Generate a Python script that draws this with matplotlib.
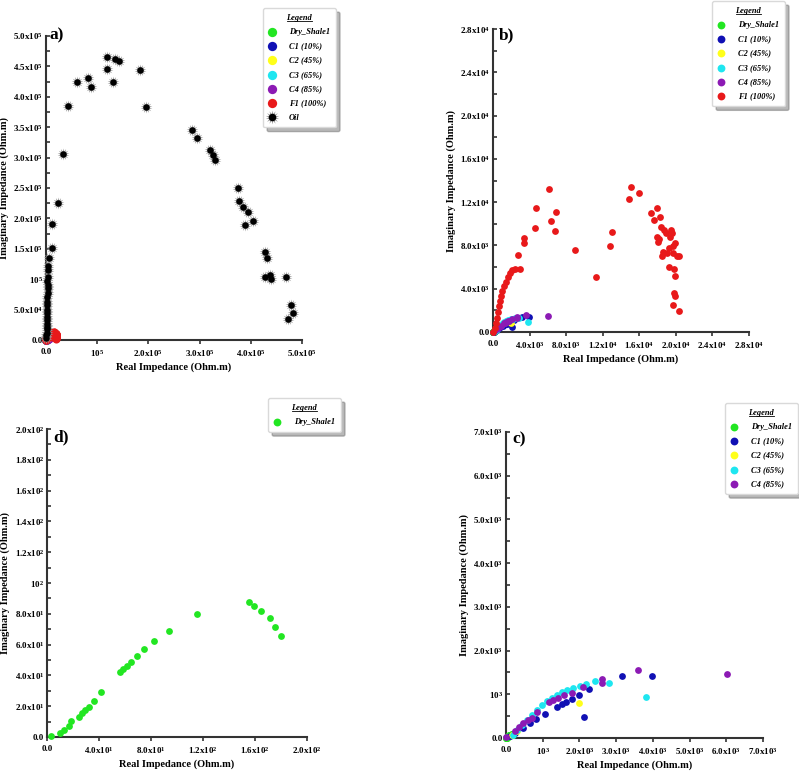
import numpy as np
import matplotlib
matplotlib.use('Agg')
import matplotlib.pyplot as plt
from matplotlib.lines import Line2D

plt.rcParams['font.family'] = 'Liberation Serif'
plt.rcParams['font.weight'] = 'bold'
plt.rcParams['mathtext.fontset'] = 'custom'
plt.rcParams['mathtext.rm'] = 'Liberation Serif:bold'
plt.rcParams['mathtext.it'] = 'Liberation Serif:italic:bold'
plt.rcParams['mathtext.bf'] = 'Liberation Serif:bold'

# --- data (Ohm.m) ---
oil_re = [120000, 134000, 142000, 119000, 184000, 81500, 60600, 130000, 88700,
          43000, 195000, 33000, 285500, 294000, 320000, 326000, 330000,
          375500, 376000, 385000, 394000, 405000, 389000, 428000, 431000,
          428000, 438000, 440000, 469000, 478000, 482000, 473000,
          23000, 12000, 11000, 6500, 4600, 4600, 3000, 3000, 2600, 2000, 1000, 500,
          3500, 2500, 3000, 2000, 2500, 1500, 2000, 1500, 1000, 2000, 1000, 500]
oil_im = [466000, 462000, 459000, 445000, 444000, 431000, 424000, 425000, 416000,
          385000, 384000, 306000, 346000, 333000, 312500, 304000, 295500,
          250000, 228600, 219000, 210000, 196000, 189000, 145000, 135000,
          104000, 107000, 99800, 104000, 57600, 43900, 34000,
          225000, 191000, 152000, 135000, 122000, 104000, 90000, 77000, 63000, 44000, 27000, 8000,
          115000, 97000, 85000, 70000, 57000, 50000, 38000, 33000, 22000, 18000, 12000, 4000]

f1_re = [0, 182, 291, 400, 509, 618, 727, 873, 1018, 1200, 1382, 1600, 1818, 2109,
         2364, 2909, 2691, 3345, 3382, 4618, 4691, 6073, 6364, 6800, 6873, 8945,
         11273, 12800, 13055, 14836, 15055, 15927, 17273, 17600, 17964, 18255,
         18327, 17927, 18182, 18036, 18436, 18545, 18691, 18873, 19418, 19527,
         19273, 19709, 19927, 20145, 19709, 19273, 19782, 19891, 19782, 19891,
         19636, 20291, 20364, 18982, 19345]
f1_im = [0, 370, 832, 1294, 1818, 2372, 2834, 3296, 3758, 4221, 4621, 5052, 5453, 5699,
         5822, 5822, 7086, 8225, 8688, 9612, 11460, 13216, 10228, 9365, 11121, 7609,
         5114, 7917, 9273, 12261, 13401, 12847, 11000, 10382, 11460, 10659,
         9673, 8780, 8595, 8287, 6993, 7394, 9458, 9150, 9458, 9150,
         7763, 7917, 8225, 6993, 7301, 6007, 5822, 5145, 3604, 3296,
         2526, 1972, 6993, 7301, 8780]

c1_re = [3173, 3980, 2267, 1985, 1804, 1623, 1514, 1378, 1052, 816, 2131, 653, 471, 245, 109]
c1_im = [1423, 1408, 1119, 982, 890, 830, 784, 708, 548, 434, 479, 342, 228, 114, 38]

c2_re = [1985, 290, 150]
c2_im = [799, 152, 60]

c3_re = [3808, 2792, 2421, 2176, 2013, 1831, 1650, 1514, 1378, 1242, 1106, 970,
         834, 698, 562, 426, 290, 181]
c3_im = [936, 1256, 1294, 1240, 1195, 1142, 1104, 1043, 989, 913, 837, 761,
         647, 533, 419, 304, 190, 76]

c4_re = [6020, 3608, 2602, 2602, 2103, 1786, 1587, 1423, 1287, 1170, 834, 698,
         589, 471, 354, 245, 0]
c4_im = [1461, 1560, 1347, 1256, 1157, 1027, 974, 913, 875, 830, 586, 457,
         403, 342, 251, 167, 23]

dry_re = [3.1, 9.7, 12.8, 16.6, 18.7, 24.3, 26.9, 29.4, 32.0, 35.8, 41.7, 56.5,
          58.8, 61.4, 64.7, 69.3, 74.7, 82.6, 94.1, 115.1, 155.0, 159.6, 164.7,
          171.4, 175.4, 180.3]
dry_im = [0.4, 2.6, 4.8, 6.9, 10.2, 13.0, 15.6, 17.3, 19.2, 23.1, 28.9, 42.1,
          44.1, 46.2, 49.0, 52.7, 57.0, 62.4, 69.1, 79.9, 87.7, 84.9, 81.6,
          77.5, 71.3, 65.7]

series = {
    'Dry_Shale1': (dry_re, dry_im, '#22e622'),
    'C1 (10%)': (c1_re, c1_im, '#1010b4'),
    'C2 (45%)': (c2_re, c2_im, '#ffff1a'),
    'C3 (65%)': (c3_re, c3_im, '#1ee6f0'),
    'C4 (85%)': (c4_re, c4_im, '#8c1ab4'),
    'F1 (100%)': (f1_re, f1_im, '#e8191a'),
}

W, H = 799, 776
fig = plt.figure(figsize=(W / 100, H / 100), dpi=100)


def px_axes(x0, y0, x1, y1):
    # axes from pixel corners (origin, top-right) of the data area
    return fig.add_axes([x0 / W, 1 - y0 / H, (x1 - x0) / W, (y0 - y1) / H])


def sci(v):
    if v == 0:
        return '0.0'
    e = int(np.floor(np.log10(v) + 1e-9))
    m = v / 10 ** e
    if abs(m - 1) < 1e-9:
        return '10$^{%d}$' % e
    return '%.1fx10$^{%d}$' % (m, e)


def setup(ax, xmax, xstep, ymax, ystep):
    ax.set_xlim(0, xmax)
    ax.set_ylim(0, ymax)
    for s in ['top', 'right']:
        ax.spines[s].set_visible(False)
    for s in ['left', 'bottom']:
        ax.spines[s].set_linewidth(1.5)
        ax.spines[s].set_color('#333333')
    xt = np.arange(0, xmax + xstep / 2, xstep)
    yt = np.arange(0, ymax + ystep / 2, ystep)
    ax.set_xticks(xt, [sci(v) for v in xt], fontsize=6.5, fontweight='bold')
    ax.set_yticks(yt, [sci(v) for v in yt], fontsize=6.5, fontweight='bold')
    ax.set_yticks(yt[:-1] + ystep / 2, minor=True)
    ax.tick_params(axis='y', which='both', direction='in', length=3, width=1.2,
                   pad=2, color='#333333')
    ax.tick_params(axis='x', direction='out', length=3, width=1.2, pad=3, color='#333333')
    ax.set_xlabel('Real Impedance (Ohm.m)', fontsize=7.5, fontweight='bold', labelpad=2)
    ax.set_ylabel('Imaginary Impedance (Ohm.m)', fontsize=7.5, fontweight='bold', labelpad=3)


def dots(ax, names, s=20):
    hs = []
    for n in names:
        re, im, col = series[n]
        h = ax.scatter(re, im, s=s, c=col, linewidths=0, zorder=4, clip_on=False)
        hs.append(h)
    return hs


legends = []


def add_legend(ax, handles, labels, x, y):
    leg = ax.legend(handles, labels, loc='upper left',
                    bbox_to_anchor=(x / W, 1 - y / H), bbox_transform=fig.transFigure,
                    title='Legend', prop={'style': 'italic', 'weight': 'bold', 'size': 6},
                    title_fontproperties={'style': 'italic', 'weight': 'bold', 'size': 6},
                    frameon=True, fancybox=True, framealpha=1, edgecolor='0.85',
                    shadow={'ox': 3, 'oy': -3, 'color': '0.45'},
                    borderpad=0.7, labelspacing=0.75, handletextpad=1.6,
                    handlelength=0.8, borderaxespad=0, markerscale=1.15)
    leg.set_zorder(10)
    legends.append(leg)


# a) everything, oil dominates
ax_a = px_axes(46, 340, 302, 36)
setup(ax_a, 5e5, 1e5, 5e5, 5e4)
names_all = list(series.keys())
hs_a = dots(ax_a, names_all, s=34)
halo = ax_a.scatter(oil_re, oil_im, s=75, marker=(14, 1, 0), c='0.6', linewidths=0,
                    zorder=5, clip_on=False)
core = ax_a.scatter(oil_re, oil_im, s=22, c='k', linewidths=0, zorder=6, clip_on=False)
add_legend(ax_a, hs_a + [(halo, core)], names_all + ['Oil'], 263, 8)
fig.text(50 / W, 1 - 35 / H, 'a)', fontsize=12.5, fontweight='bold', va='center')

# b) samples with water
ax_b = px_axes(493, 332, 749, 29)
setup(ax_b, 2.8e4, 4e3, 2.8e4, 4e3)
hs_b = dots(ax_b, names_all, s=24)
add_legend(ax_b, hs_b, names_all, 712, 1)
fig.text(499 / W, 1 - 35 / H, 'b)', fontsize=12.5, fontweight='bold', va='center')

# d) dry shale only
ax_d = px_axes(47, 737, 307, 429)
setup(ax_d, 200, 40, 200, 20)
hs_d = dots(ax_d, ['Dry_Shale1'], s=24)
add_legend(ax_d, hs_d, ['Dry_Shale1'], 268, 398)
fig.text(53 / W, 1 - 437 / H, 'd)', fontsize=12.5, fontweight='bold', va='center')

# c) partially saturated
ax_c = px_axes(506, 738, 763, 432)
setup(ax_c, 7e3, 1e3, 7e3, 1e3)
names_c = names_all[:5]
hs_c = dots(ax_c, names_c, s=24)
add_legend(ax_c, hs_c, names_c, 725, 403)
fig.text(512 / W, 1 - 439 / H, 'c)', fontsize=12.5, fontweight='bold', va='center')

# underline the legend titles
fig.canvas.draw()
for leg in legends:
    tb = leg.get_title().get_window_extent()
    yl = (tb.y0 + 0.5) / H
    fig.add_artist(Line2D([tb.x0 / W, tb.x1 / W], [yl, yl], color='k', lw=0.6, zorder=11))

fig.savefig('out.png', dpi=100)
